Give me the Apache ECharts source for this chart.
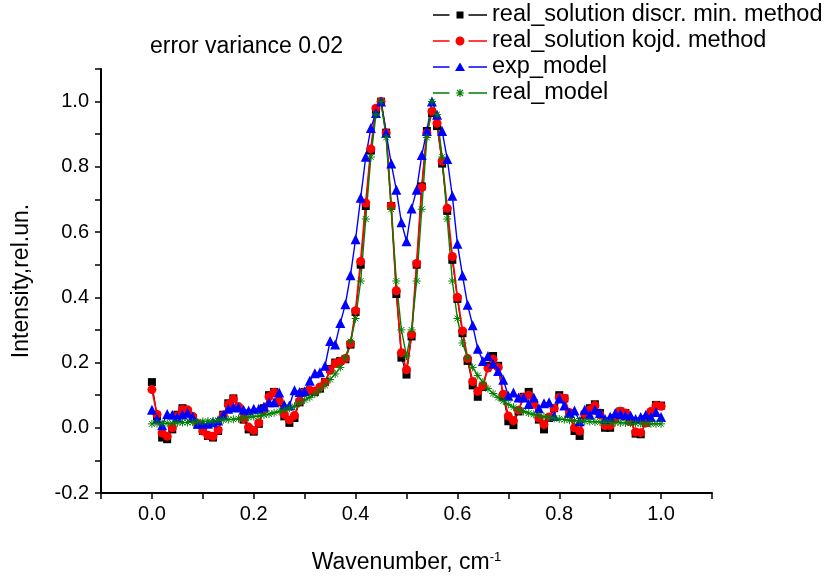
<!DOCTYPE html>
<html><head><meta charset="utf-8">
<script src="https://cdn.jsdelivr.net/npm/echarts@6/dist/echarts.min.js"></script>
<style>html,body{margin:0;padding:0;background:#fff}#c{width:828px;height:579px}</style>
</head><body><div id="c"></div><script>
const wavenumber = [0.00,0.01,0.02,0.03,0.04,0.05,0.06,0.07,0.08,0.09,
0.10,0.11,0.12,0.13,0.14,0.15,0.16,0.17,0.18,0.19,
0.20,0.21,0.22,0.23,0.24,0.25,0.26,0.27,0.28,0.29,
0.30,0.31,0.32,0.33,0.34,0.35,0.36,0.37,0.38,0.39,
0.40,0.41,0.42,0.43,0.44,0.45,0.46,0.47,0.48,0.49,
0.50,0.51,0.52,0.53,0.54,0.55,0.56,0.57,0.58,0.59,
0.60,0.61,0.62,0.63,0.64,0.65,0.66,0.67,0.68,0.69,
0.70,0.71,0.72,0.73,0.74,0.75,0.76,0.77,0.78,0.79,
0.80,0.81,0.82,0.83,0.84,0.85,0.86,0.87,0.88,0.89,
0.90,0.91,0.92,0.93,0.94,0.95,0.96,0.97,0.98,0.99,
1.00];

const realSolutionDiscr = [0.14,0.035,-0.03,-0.035,-0.005,0.04,0.06,0.05,0.03,0.01,
-0.01,-0.025,-0.03,-0.01,0.04,0.075,0.09,0.06,0.025,-0.005,
-0.012,0.012,0.06,0.1,0.11,0.078,0.035,0.015,0.03,0.078,
0.11,0.112,0.11,0.12,0.14,0.18,0.2,0.205,0.21,0.255,
0.355,0.5,0.68,0.85,0.975,1.0,0.905,0.68,0.41,0.215,
0.163,0.28,0.5,0.74,0.91,0.965,0.925,0.81,0.665,0.515,
0.395,0.29,0.205,0.13,0.095,0.125,0.19,0.22,0.19,0.095,
0.02,0.008,0.05,0.095,0.11,0.075,0.025,-0.005,0.03,0.06,
0.1,0.09,0.045,-0.01,-0.025,0.04,0.06,0.072,0.045,0.0,
0.0,0.03,0.05,0.045,0.02,-0.018,-0.02,0.015,0.045,0.07,
0.068];

const realSolutionKojd = [0.117,0.041,-0.016,-0.026,0.0,0.036,0.056,0.055,0.035,0.012,
-0.01,-0.023,-0.026,-0.007,0.038,0.071,0.088,0.065,0.028,0.002,
-0.008,0.015,0.055,0.095,0.108,0.081,0.041,0.024,0.038,0.082,
0.108,0.115,0.113,0.125,0.139,0.176,0.197,0.203,0.212,0.258,
0.359,0.51,0.689,0.855,0.98,1.0,0.904,0.68,0.42,0.23,
0.178,0.286,0.504,0.737,0.904,0.97,0.934,0.818,0.673,0.525,
0.40,0.297,0.212,0.142,0.112,0.129,0.183,0.21,0.185,0.103,
0.036,0.022,0.054,0.093,0.10,0.073,0.03,0.01,0.033,0.06,
0.093,0.09,0.047,0.0,-0.01,0.043,0.055,0.068,0.04,0.007,
0.007,0.03,0.051,0.045,0.02,-0.013,-0.015,0.015,0.05,0.068,
0.066];

const expModel = [0.055,0.027,0.008,0.042,0.04,0.033,0.041,0.046,0.033,0.012,
0.012,0.012,0.017,0.022,0.04,0.058,0.063,0.063,0.055,0.053,
0.058,0.058,0.065,0.078,0.078,0.108,0.07,0.068,0.115,0.11,
0.112,0.144,0.167,0.17,0.19,0.266,0.255,0.321,0.379,0.468,
0.578,0.705,0.831,0.919,0.965,1.0,0.904,0.81,0.73,0.63,
0.572,0.672,0.73,0.836,0.91,1.0,0.96,0.91,0.824,0.711,
0.564,0.467,0.377,0.314,0.242,0.205,0.22,0.196,0.174,0.147,
0.098,0.108,0.093,0.093,0.073,0.093,0.06,0.075,0.078,0.036,
0.09,0.068,0.045,0.053,0.02,0.055,0.04,0.055,0.045,0.027,
0.034,0.045,0.042,0.038,0.038,0.027,0.033,0.04,0.033,0.048,
0.033];

const realModel = [0.012,0.013,0.013,0.014,0.014,0.015,0.016,0.016,0.017,0.018,
0.019,0.02,0.021,0.023,0.024,0.025,0.026,0.028,0.03,0.032,
0.034,0.036,0.039,0.042,0.046,0.05,0.055,0.06,0.066,0.075,
0.085,0.093,0.103,0.116,0.13,0.148,0.165,0.185,0.215,0.265,
0.335,0.45,0.64,0.83,0.96,1.0,0.89,0.67,0.45,0.30,
0.22,0.30,0.45,0.67,0.89,1.0,0.96,0.83,0.64,0.45,
0.335,0.26,0.215,0.185,0.16,0.14,0.12,0.105,0.093,0.082,
0.072,0.063,0.055,0.05,0.045,0.041,0.037,0.034,0.031,0.029,
0.027,0.025,0.023,0.022,0.021,0.02,0.019,0.018,0.018,0.017,
0.016,0.016,0.015,0.015,0.014,0.013,0.013,0.013,0.012,0.012,
0.012];

const seriesNames = ['real_solution discr. min. method','real_solution kojd. method','exp_model','real_model'];
const chartTitle = 'error variance 0.02';
const xAxisTitle = 'Wavenumber, cm';
const xAxisTitleSup = '-1';
const yAxisTitle = 'Intensity,rel.un.';

const FONT = 'Liberation Sans, Arial, sans-serif';
const pairs = arr => wavenumber.map((x, i) => [x, arr[i]]);
const tickFmt = v => { const k = Math.round(v * 10); return k % 2 === 0 ? (k / 10).toFixed(1) : ''; };
const asterisk = 'path://M0,-5L0,5M-5,0L5,0M-3.6,-3.6L3.6,3.6M-3.6,3.6L3.6,-3.6';

// legend icons: dash - gap - marker - gap - dash (54 x 12 box)
const bbox = 'M0,0L0.01,0L0,0.01Z M54,12L53.99,12L54,11.99Z ';
const dashes = 'M0,5.25L16.5,5.25L16.5,6.75L0,6.75Z M35.5,5.25L54,5.25L54,6.75L35.5,6.75Z ';
const legendIcons = [
  'path://' + bbox + dashes + 'M23.5,2.5L30.5,2.5L30.5,9.5L23.5,9.5Z',
  'path://' + bbox + dashes + 'M22.5,6A4.5,4.5 0 1,1 31.5,6A4.5,4.5 0 1,1 22.5,6Z',
  'path://' + bbox + dashes + 'M27,1.5L32,10L22,10Z',
  'path://' + bbox + dashes + 'M26.4,2L27.6,2L27.6,10L26.4,10Z M23,5.4L31,5.4L31,6.6L23,6.6Z ' +
    'M24.4,2.6L30.4,8.6L29.6,9.4L23.6,3.4Z M24.4,9.4L23.6,8.6L29.6,2.6L30.4,3.4Z'
];

const chart = echarts.init(document.getElementById('c'), null, {renderer: 'canvas'});
chart.setOption({
  animation: false,
  backgroundColor: '#fff',
  title: {text: chartTitle, left: 145, top: 30,
    textStyle: {fontSize: 23, fontWeight: 'normal', color: '#000', fontFamily: FONT}},
  legend: {orient: 'vertical', left: 433, top: 3, padding: 0, itemWidth: 54, itemHeight: 12, itemGap: 2,
    textStyle: {fontSize: 23.5, color: '#000', fontFamily: FONT},
    itemStyle: {borderWidth: 0},
    data: seriesNames.map((n, i) => ({name: n, icon: legendIcons[i], itemStyle: {borderWidth: 0}}))},
  grid: {left: 101, right: 116, top: 69, bottom: 82},
  xAxis: {type: 'value', min: -0.1, max: 1.1, interval: 0.1,
    axisLine: {onZero: false, lineStyle: {color: '#000', width: 2}},
    axisTick: {length: 6, lineStyle: {color: '#000', width: 1.5}},
    axisLabel: {formatter: tickFmt, fontSize: 20, color: '#000', margin: 11, fontFamily: FONT},
    splitLine: {show: false},
    name: '{a|' + xAxisTitle + '}{s|' + xAxisTitleSup + '}', nameLocation: 'middle', nameGap: 58,
    nameTextStyle: {fontSize: 23, color: '#000', fontFamily: FONT,
      rich: {a: {fontSize: 23, color: '#000', fontFamily: FONT},
             s: {fontSize: 13, color: '#000', fontFamily: FONT, verticalAlign: 'top'}}}},
  yAxis: {type: 'value', min: -0.2, max: 1.1, interval: 0.1,
    axisLine: {onZero: false, lineStyle: {color: '#000', width: 2}},
    axisTick: {length: 6, lineStyle: {color: '#000', width: 1.5}},
    axisLabel: {formatter: tickFmt, fontSize: 20, color: '#000', margin: 12, fontFamily: FONT},
    splitLine: {show: false},
    name: yAxisTitle, nameLocation: 'middle', nameGap: 68, nameRotate: 90,
    nameTextStyle: {fontSize: 23, color: '#000', fontFamily: FONT}},
  series: [
    {name: seriesNames[0], type: 'line', data: pairs(realSolutionDiscr), symbol: 'rect', symbolSize: 8,
      lineStyle: {color: '#000', width: 1}, itemStyle: {color: '#000'}},
    {name: seriesNames[1], type: 'line', data: pairs(realSolutionKojd), symbol: 'circle', symbolSize: 9,
      lineStyle: {color: '#ff0000', width: 1.8}, itemStyle: {color: '#ff0000'}},
    {name: seriesNames[2], type: 'line', data: pairs(expModel), symbol: 'triangle', symbolSize: 10,
      lineStyle: {color: '#0000ff', width: 1.4}, itemStyle: {color: '#0000ff'}},
    {name: seriesNames[3], type: 'line', data: pairs(realModel), symbol: asterisk, symbolSize: 8,
      lineStyle: {color: '#008000', width: 1.4},
      itemStyle: {color: '#008000', borderColor: '#008000', borderWidth: 1}}
  ]
});
</script></body></html>
